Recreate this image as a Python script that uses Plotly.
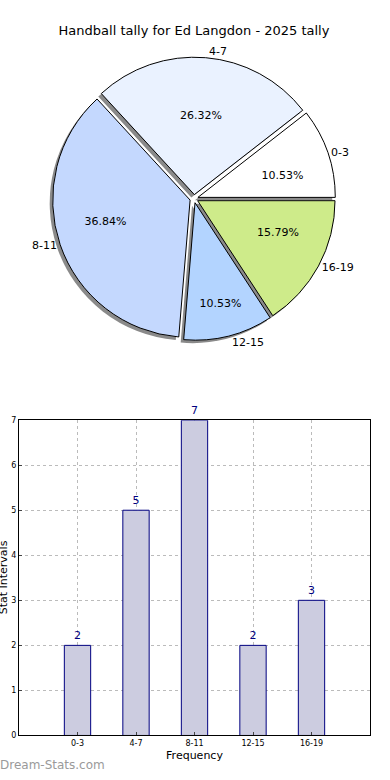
import plotly.graph_objects as go

categories = ["0-3", "4-7", "8-11", "12-15", "16-19"]
counts = [2, 5, 7, 2, 3]
pie_colors = ["#ffffff", "#eaf2ff", "#c4d8fe", "#b3d4ff", "#ceeb8a"]
pulls = [0.03, 0.03, 0.03, 0.03, 0.03]
y_ticks = [0, 1, 2, 3, 4, 5, 6, 7]

W, H = 390, 780
cx, cy, R = 194, 197, 139
half = R * 1.03
start_rot = 90 - 360 * counts[0] / sum(counts)
PCT = "%{percent:.2%}"
# which slices get their percentage from the main pie (inside) vs. the inner ring
inside_main = [False, True, False, True, False]

def px_dom(x0, x1, y0, y1):
    return dict(x=[x0 / W, x1 / W], y=[1 - y1 / H, 1 - y0 / H])

fig = go.Figure()

common = dict(labels=categories, values=counts, sort=False,
              direction="counterclockwise", rotation=start_rot, pull=pulls,
              hoverinfo="skip", showlegend=False)

# shadow
fig.add_trace(go.Pie(**common,
                     domain=px_dom(cx - half - 3, cx + half - 3, cy - half + 3, cy + half + 3),
                     marker=dict(colors=["#8a8a8a"] * 5, line=dict(width=0)),
                     textinfo="none"))
# main pie
fig.add_trace(go.Pie(**common,
                     domain=px_dom(cx - half, cx + half, cy - half, cy + half),
                     marker=dict(colors=pie_colors, line=dict(color="#000000", width=1)),
                     texttemplate=[PCT if f else "" for f in inside_main],
                     textposition="inside", insidetextorientation="horizontal",
                     textfont=dict(family="DejaVu Sans", size=11, color="#000000")))
# percentages for remaining slices (transparent inner pie, text just outside its rim)
ih = half * 0.48
fig.add_trace(go.Pie(**common,
                     domain=px_dom(cx - ih, cx + ih, cy - ih, cy + ih),
                     marker=dict(colors=["rgba(0,0,0,0)"] * 5, line=dict(width=0)),
                     texttemplate=["" if f else PCT for f in inside_main],
                     textposition="outside",
                     textfont=dict(family="DejaVu Sans", size=11, color="#000000")))
# outside labels
fig.add_trace(go.Pie(**common,
                     domain=px_dom(cx - half, cx + half, cy - half, cy + half),
                     marker=dict(colors=["rgba(0,0,0,0)"] * 5, line=dict(width=0)),
                     texttemplate="%{label}", textposition="outside",
                     textfont=dict(family="DejaVu Sans", size=11, color="#000000")))

# bar chart
fig.add_trace(go.Bar(x=list(range(len(categories))), y=counts, width=0.45,
                     marker=dict(color="#cccce0", line=dict(color="#000080", width=1)),
                     text=[str(v) for v in counts], textposition="outside",
                     textfont=dict(family="DejaVu Sans", size=11, color="#000080"),
                     cliponaxis=False, hoverinfo="skip", showlegend=False,
                     xaxis="x", yaxis="y"))

fig.update_layout(
    width=W, height=H, margin=dict(l=0, r=0, t=0, b=0),
    paper_bgcolor="white", plot_bgcolor="white",
    font=dict(family="DejaVu Sans", color="#000000"),
    title=dict(text="Handball tally for Ed Langdon - 2025 tally",
               x=194 / W, xanchor="center", y=1 - 30 / H, yanchor="middle",
               font=dict(size=13, family="DejaVu Sans", color="#000000")),
    xaxis=dict(domain=[19 / W, 370 / W], range=[-1, 5],
               tickvals=list(range(len(categories))), ticktext=categories,
               tickfont=dict(size=8), ticks="inside", ticklen=3,
               showline=True, linecolor="black", linewidth=1, mirror=True,
               showgrid=True, gridcolor="#bbbbbb", griddash="dot", gridwidth=1,
               zeroline=False, layer="above traces",
               title=dict(text="Frequency", font=dict(size=11), standoff=4)),
    yaxis=dict(domain=[1 - 740 / H, 1 - 421 / H], range=[0, 7],
               tickvals=y_ticks, tickfont=dict(size=8), ticks="inside", ticklen=3,
               showline=True, linecolor="black", linewidth=1, mirror=True,
               showgrid=True, gridcolor="#bbbbbb", griddash="dot", gridwidth=1,
               zeroline=False, layer="above traces"),
    annotations=[
        dict(text="Stat Intervals", textangle=-90, x=3 / W, y=1 - 580 / H,
             xref="paper", yref="paper", xanchor="center", yanchor="middle",
             showarrow=False, font=dict(size=11, color="#000000")),
        dict(text="Dream-Stats.com", x=-2 / W, y=1 - 770 / H,
             xref="paper", yref="paper", xanchor="left", yanchor="middle",
             showarrow=False, font=dict(size=12, color="#9a9a9a", family="DejaVu Sans")),
    ],
)

fig.write_html("out.html", config={"displayModeBar": False},
               post_script="document.body.style.margin='0';document.body.style.overflow='hidden';")
